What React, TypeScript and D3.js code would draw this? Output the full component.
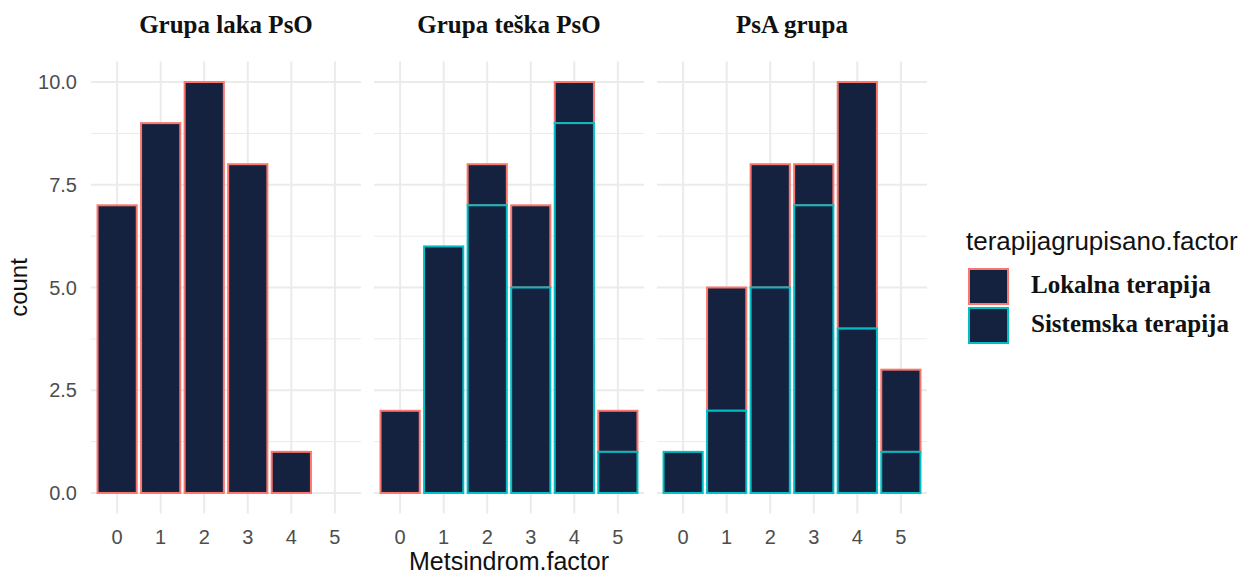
import React from "react";
import * as d3 from "d3";

// Facets, categories and counts per therapy group
const panels = ["Grupa laka PsO", "Grupa teška PsO", "PsA grupa"];
const categories = ["0", "1", "2", "3", "4", "5"];
const groups = ["Lokalna terapija", "Sistemska terapija"];

// counts per category (0..5) for each facet
const lokalnaLaka = [7, 9, 10, 8, 1, 0];
const sistemskaLaka = [0, 0, 0, 0, 0, 0];
const lokalnaTeska = [2, 0, 1, 2, 1, 1];
const sistemskaTeska = [0, 6, 7, 5, 9, 1];
const lokalnaPsA = [0, 3, 3, 1, 6, 2];
const sistemskaPsA = [1, 2, 5, 7, 4, 1];

const yTicks = [0, 2.5, 5, 7.5, 10];
const yMinor = [1.25, 3.75, 6.25, 8.75];

const seriesByPanel = [
  [lokalnaLaka, sistemskaLaka],
  [lokalnaTeska, sistemskaTeska],
  [lokalnaPsA, sistemskaPsA],
];

const FILL = "#14213f";
const outline = d3.scaleOrdinal<string, string>().domain(groups).range(["#F8766D", "#00BFC4"]);

export default function App() {
  const W = 1243;
  const H = 575;
  const top = 61.5;
  const bottom = 513.5;
  const panelW = 270;
  const panelX = [91, 374, 657];

  const y = d3.scaleLinear().domain([-0.5, 10.5]).range([bottom, top]);
  // discrete axis with 0.6 units of expansion on each side
  const x = d3
    .scalePoint<string>()
    .domain(categories)
    .range([0, panelW])
    .padding(0.6);
  const step = x.step();
  const barW = step * 0.9;

  const serif = "'Liberation Serif', 'DejaVu Serif', serif";
  const sans = "'Liberation Sans', Arial, sans-serif";

  return (
    <svg width={W} height={H} style={{ position: "absolute", left: 0, top: 0 }} xmlns="http://www.w3.org/2000/svg">
      <rect width={W} height={H} fill="#fff" />
      {panels.map((p, pi) => {
        const ox = panelX[pi];
        const stackData = categories.map((c, i) => ({
          cat: c,
          "Lokalna terapija": seriesByPanel[pi][0][i],
          "Sistemska terapija": seriesByPanel[pi][1][i],
        }));
        // Sistemska at the bottom, Lokalna stacked above it
        const stack = d3
          .stack<any>()
          .keys(["Sistemska terapija", "Lokalna terapija"])(stackData);
        // draw Lokalna first so the Sistemska outline sits on top at the seam
        const drawOrder = [stack[1], stack[0]];
        return (
          <g key={p} transform={`translate(${ox},0)`}>
            {yMinor.map((t) => (
              <line key={"m" + t} x1={0} x2={panelW} y1={y(t)} y2={y(t)} stroke="#EBEBEB" strokeWidth={1} />
            ))}
            {yTicks.map((t) => (
              <line key={"y" + t} x1={0} x2={panelW} y1={y(t)} y2={y(t)} stroke="#EBEBEB" strokeWidth={2} />
            ))}
            {categories.map((c) => (
              <line key={"x" + c} x1={x(c)} x2={x(c)} y1={top} y2={bottom} stroke="#EBEBEB" strokeWidth={2} />
            ))}
            {drawOrder.map((layer) =>
              layer.map((d, i) => {
                const v = d[1] - d[0];
                if (v <= 0) return null;
                const c = categories[i];
                return (
                  <rect
                    key={layer.key + c}
                    x={(x(c) as number) - barW / 2}
                    y={y(d[1])}
                    width={barW}
                    height={y(d[0]) - y(d[1])}
                    fill={FILL}
                    stroke={outline(layer.key)}
                    strokeWidth={2}
                  />
                );
              })
            )}
            <text
              x={panelW / 2}
              y={33}
              textAnchor="middle"
              fontFamily={serif}
              fontWeight="bold"
              fontSize={25}
              fill="#111"
            >
              {p}
            </text>
            {categories.map((c) => (
              <text
                key={"t" + c}
                x={x(c)}
                y={544}
                textAnchor="middle"
                fontFamily={sans}
                fontSize={20}
                fill="#4D4D4D"
              >
                {c}
              </text>
            ))}
          </g>
        );
      })}
      {yTicks.map((t) => (
        <text
          key={"yl" + t}
          x={77}
          y={y(t) + 7}
          textAnchor="end"
          fontFamily={sans}
          fontSize={20}
          fill="#4D4D4D"
        >
          {t.toFixed(1)}
        </text>
      ))}
      <text
        transform={`translate(27,${(top + bottom) / 2}) rotate(-90)`}
        textAnchor="middle"
        fontFamily={sans}
        fontSize={24}
        fill="#111"
      >
        count
      </text>
      <text x={509} y={570} textAnchor="middle" fontFamily={sans} fontSize={25} fill="#111">
        Metsindrom.factor
      </text>
      {/* legend */}
      <text x={966} y={250} fontFamily={sans} fontSize={26} fill="#111">
        terapijagrupisano.factor
      </text>
      {groups.map((g, i) => (
        <g key={g} transform={`translate(969,${269 + i * 39})`}>
          <rect x={0} y={0} width={39} height={35} fill={FILL} stroke={outline(g)} strokeWidth={2} />
          <text x={62} y={24} fontFamily={serif} fontWeight="bold" fontSize={25} fill="#111">
            {g}
          </text>
        </g>
      ))}
    </svg>
  );
}
